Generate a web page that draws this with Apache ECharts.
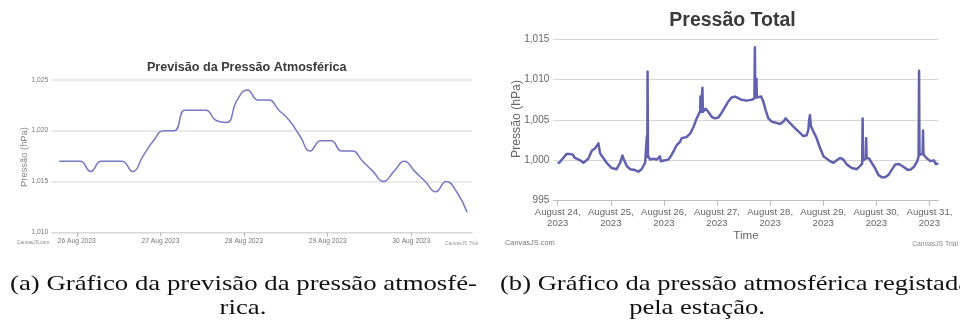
<!DOCTYPE html>
<html><head><meta charset="utf-8">
<script src="https://cdn.jsdelivr.net/npm/echarts@6/dist/echarts.min.js"></script>
<style>html,body{margin:0;padding:0;background:#fff}#c{width:960px;height:326px}</style>
</head><body><div id="c"></div>
<script>
// ---- Chart (a): forecast, hours from 26 Aug 2023 00:00 (3-hour steps)
const aTickHours = [0, 24, 48, 72, 96];
const aTickLabels = ['26 Aug 2023', '27 Aug 2023', '28 Aug 2023', '29 Aug 2023', '30 Aug 2023'];
const aHours = [-5, -2, 1, 4, 7, 10, 13, 16, 19, 22, 25, 28, 31, 34, 37, 40, 43, 46, 49, 52,
                55, 58, 61, 64, 67, 70, 73, 76, 79, 82, 85, 88, 91, 94, 97, 100, 103, 106, 109, 112];
const aValues = [1017, 1017, 1017, 1016, 1017, 1017, 1017, 1016, 1017.5, 1019, 1020, 1020, 1022, 1022, 1022, 1021, 1020.8, 1023, 1024, 1023,
                 1023, 1022, 1021, 1019.5, 1018, 1019, 1019, 1018, 1018, 1017, 1016, 1015, 1016, 1017, 1016, 1015, 1014, 1015, 1014, 1012];

// ---- Chart (b): station record, hours from 24 Aug 2023 00:00
const bTickHours = [0, 24, 48, 72, 96, 120, 144, 168];
const bTickLabels = ['August 24,|2023', 'August 25,|2023', 'August 26,|2023', 'August 27,|2023',
                     'August 28,|2023', 'August 29,|2023', 'August 30,|2023', 'August 31,|2023'];
const bHours = [0, 1, 2.5, 4, 5.6, 6.8, 7.8, 10.1, 11.6, 12.3, 13.8, 15.4, 16.9, 17.8, 18.4, 19.1, 20.6, 22.1,
  24.4, 26.6, 28.2, 29.2, 29.9, 31.2, 32.7, 34.9, 36.4, 37.9, 39.5, 40.2, 40.3, 40.5, 40.6, 40.8, 41.7, 43.2,
  44.7, 46.2, 46.6, 48.5, 50.0, 51.1, 52.3, 53.8, 55.3, 56.0, 58.3, 59.8, 61.3, 62.8, 63.9, 64.4, 64.5, 64.7,
  65.3, 65.4, 65.6, 66.9, 68.1, 69.6, 71.1, 72.6, 74.1, 75.6, 77.1, 78.6, 80.1, 81.6, 83.1, 85.4, 87.7, 88.9,
  89.1, 89.3, 89.8, 90.0, 90.7, 91.9, 92.9, 94.0, 95.2, 96.7, 98.2, 100.5, 102.0, 103.0, 105.0, 107.2, 109.5,
  111.0, 112.5, 113.3, 113.6, 114.0, 114.4, 115.5, 117.0, 118.6, 120.1, 121.6, 123.1, 124.6, 126.1, 127.6,
  129.1, 130.6, 132.9, 135.2, 136.6, 137.6, 137.8, 138.0, 139.2, 139.4, 139.6, 140.8, 141.9, 143.4, 144.9,
  146.4, 148.0, 149.5, 151.0, 152.6, 154.2, 155.7, 158.0, 159.5, 161.0, 162.5, 163.1, 163.3, 163.5, 164.0,
  164.9, 165.1, 165.3, 167.0, 168.5, 170.0, 170.8, 172.0];
const bValues = [999.6, 999.8, 1000.3, 1000.8, 1000.8, 1000.7, 1000.3, 1000.0, 999.7, 999.5, 1000.2, 1001.2, 1001.5, 1001.6, 1002.1, 1000.9, 1000.3, 999.7,
  999.05, 998.9, 999.7, 1000.6, 1000.1, 999.3, 998.9, 998.8, 998.6, 998.9, 999.7, 999.9, 1003.0, 1000.4, 1011.0, 1000.6, 1000.1, 1000.2,
  1000.1, 1000.5, 999.9, 1000.0, 1000.1, 1000.5, 1001.1, 1001.9, 1002.3, 1002.75, 1002.9, 1003.3, 1004.1, 1005.2, 1005.8, 1006.2, 1007.9, 1006.0,
  1006.2, 1009.0, 1006.0, 1006.4, 1006.0, 1005.4, 1005.2, 1005.3, 1005.9, 1006.6, 1007.3, 1007.8, 1007.9, 1007.7, 1007.5, 1007.4, 1007.5, 1007.7,
  1014.0, 1007.8, 1010.1, 1007.8, 1007.7, 1007.9, 1007.3, 1006.2, 1005.2, 1004.8, 1004.7, 1004.5, 1004.8, 1005.2, 1004.6, 1004.0, 1003.4,
  1003.0, 1003.1, 1003.8, 1005.0, 1005.6, 1004.3, 1003.6, 1002.75, 1001.5, 1000.5, 1000.2, 999.9, 999.7, 1000.0, 1000.3,
  1000.1, 999.5, 999.05, 998.9, 999.3, 999.6, 1005.2, 1000.0, 1000.2, 1002.75, 1000.3, 1000.2, 999.7, 999.05, 998.2,
  997.9, 997.9, 998.2, 998.85, 999.5, 999.55, 999.3, 998.85, 998.85, 999.2, 999.9, 1000.5, 1011.1, 1000.7, 1000.6,
  1000.8, 1003.7, 1000.7, 1000.2, 999.9, 1000.0, 999.55, 999.6];

const SANS = 'Liberation Sans, Arial, sans-serif';
const SERIF_NAME = 'Liberation Serif';
const SERIF = '"Liberation Serif", "Times New Roman", serif';
const CAP_SIZE = 22;
function fmtThousands(v) {
  return v >= 1000 ? Math.floor(v / 1000) + ',' + String(Math.round(v % 1000)).padStart(3, '0') : String(v);
}
const mctx = document.createElement('canvas').getContext('2d');
function textW(t) { mctx.font = CAP_SIZE + 'px "' + SERIF_NAME + '"'; return mctx.measureText(t).width; }

const capA1 = '(a) Gráfico da previsão da pressão atmosfé-';
const capA2 = 'rica.';
const capB1 = '(b) Gráfico da pressão atmosférica registada';
const capB2 = 'pela estação.';
const sA = 467 / textW(capA1);
const sB = 470 / textW(capB1);

function capText(text, x, y, align, sx) {
  return { type: 'text', x: x, y: y, scaleX: sx, scaleY: 1,
    style: { text: text, align: align, verticalAlign: 'middle', fontSize: CAP_SIZE, fontFamily: SERIF, fill: '#111' } };
}

const chart = echarts.init(document.getElementById('c'), null, { renderer: 'canvas' });
chart.setOption({
  animation: false,
  backgroundColor: '#fff',
  grid: [
    { left: 51.7, right: 487.7, top: 79.7, bottom: 93.5 },
    { left: 553.3, right: 21.7, top: 39.3, bottom: 125.3 }
  ],
  xAxis: [
    {
      type: 'value', gridIndex: 0, min: -7.2, max: 113.5,
      splitLine: { show: false },
      axisLine: { show: true, lineStyle: { color: '#d8d8d8', width: 1 } },
      axisTick: { show: true, customValues: aTickHours, length: 4, lineStyle: { color: '#bbb' } },
      axisLabel: {
        customValues: aTickHours, margin: 5, fontSize: 6.7, color: '#777', fontFamily: SANS,
        formatter: v => aTickLabels[aTickHours.indexOf(v)] || ''
      }
    },
    {
      type: 'value', gridIndex: 1, min: -2, max: 172,
      splitLine: { show: false },
      axisLine: { show: true, lineStyle: { color: '#bdbdbd', width: 1 } },
      axisTick: { show: true, customValues: bTickHours, length: 5, lineStyle: { color: '#bdbdbd' } },
      axisLabel: {
        customValues: bTickHours, margin: 6,
        formatter: v => {
          const s = bTickLabels[bTickHours.indexOf(v)] || '';
          const p = s.split('|');
          return '{a|' + p[0] + '}\n{a|' + (p[1] || '') + '}';
        },
        rich: { a: { fontSize: 9.6, lineHeight: 11, color: '#666', fontFamily: SANS } }
      }
    }
  ],
  yAxis: [
    {
      type: 'value', gridIndex: 0, min: 1010, max: 1025, interval: 5,
      axisLine: { show: false }, axisTick: { show: false },
      splitLine: { show: true, lineStyle: { color: '#e3e3e3', width: 1.5 } },
      axisLabel: { margin: 3.5, fontSize: 6.7, color: '#777', fontFamily: SANS, formatter: fmtThousands }
    },
    {
      type: 'value', gridIndex: 1, min: 995, max: 1015, interval: 5,
      axisLine: { show: false }, axisTick: { show: false },
      splitLine: { show: true, lineStyle: { color: '#d6d6d6', width: 1 } },
      axisLabel: { margin: 4, fontSize: 10, color: '#666', fontFamily: SANS, formatter: fmtThousands }
    }
  ],
  series: [
    {
      type: 'line', xAxisIndex: 0, yAxisIndex: 0, smooth: 0.5, showSymbol: false,
      lineStyle: { color: '#7878c0', width: 1.5 },
      data: aHours.map((h, i) => [h, aValues[i]])
    },
    {
      type: 'line', xAxisIndex: 1, yAxisIndex: 1, smooth: false, showSymbol: false,
      lineStyle: { color: '#6161ad', width: 2.5, join: 'round' },
      data: bHours.map((h, i) => [h, bValues[i]])
    }
  ],
  graphic: [
    { type: 'text', x: 246.7, y: 67.5, style: { text: 'Previsão da Pressão Atmosférica', align: 'center', verticalAlign: 'middle', fontSize: 12.6, fontWeight: 'bold', fontFamily: SANS, fill: '#3a3a3a' } },
    { type: 'text', x: 732.5, y: 20.5, style: { text: 'Pressão Total', align: 'center', verticalAlign: 'middle', fontSize: 19.5, fontWeight: 'bold', fontFamily: SANS, fill: '#3a3a3a' } },
    { type: 'text', x: 24, y: 157, rotation: Math.PI / 2, style: { text: 'Pressão (hPa)', align: 'center', verticalAlign: 'middle', fontSize: 9.4, fontFamily: SANS, fill: '#888' } },
    { type: 'text', x: 516.7, y: 119, rotation: Math.PI / 2, style: { text: 'Pressão (hPa)', align: 'center', verticalAlign: 'middle', fontSize: 12.2, fontFamily: SANS, fill: '#666' } },
    { type: 'text', x: 746, y: 235.5, style: { text: 'Time', align: 'center', verticalAlign: 'middle', fontSize: 11.6, fontFamily: SANS, fill: '#666' } },
    { type: 'text', x: 17, y: 243, style: { text: 'CanvasJS.com', align: 'left', verticalAlign: 'middle', fontSize: 4.8, fontFamily: SANS, fill: '#888' } },
    { type: 'text', x: 478, y: 244, style: { text: 'CanvasJS Trial', align: 'right', verticalAlign: 'middle', fontSize: 4.9, fontFamily: SANS, fill: '#999' } },
    { type: 'text', x: 505, y: 243, style: { text: 'CanvasJS.com', align: 'left', verticalAlign: 'middle', fontSize: 7.4, fontFamily: SANS, fill: '#777' } },
    { type: 'text', x: 958, y: 244, style: { text: 'CanvasJS Trial', align: 'right', verticalAlign: 'middle', fontSize: 6.8, fontFamily: SANS, fill: '#888' } },
    capText(capA1, 10, 284, 'left', sA),
    capText(capA2, 243, 308, 'center', sA),
    capText(capB1, 500, 284, 'left', sB),
    capText(capB2, 697, 308, 'center', sB)
  ]
});
</script>
</body></html>
